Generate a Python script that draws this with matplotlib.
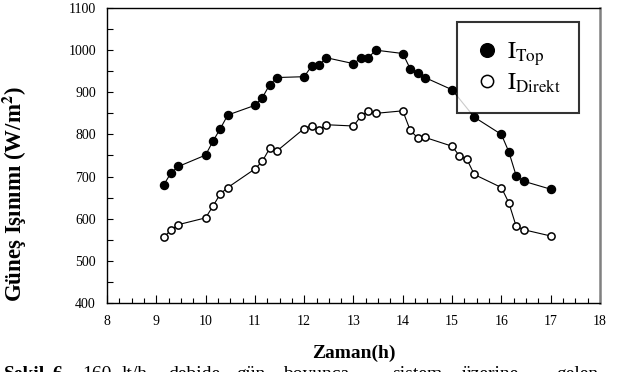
import matplotlib
matplotlib.use("Agg")
import matplotlib.pyplot as plt
from matplotlib.ticker import MultipleLocator

plt.rcParams["font.family"] = ["Liberation Serif", "DejaVu Serif"]
plt.rcParams["mathtext.fontset"] = "stix"

# clock times written as HH.MM decimals in the source chart
t_top = [9.15, 9.30, 9.45, 10.00, 10.15, 10.30, 10.45, 11.00, 11.15, 11.30, 11.45,
         12.00, 12.15, 12.30, 12.45, 13.00, 13.15, 13.30, 13.45, 14.00, 14.15, 14.30,
         14.45, 15.00, 15.45, 16.00, 16.15, 16.30, 16.45, 17.00]
i_top = [680, 709, 724, 751, 784, 814, 846, 869, 887, 918, 935,
         937, 962, 964, 982, 968, 981, 982, 1000, 992, 956, 946,
         935, 906, 841, 800, 759, 702, 689, 670]

t_dir = [9.15, 9.30, 9.45, 10.00, 10.15, 10.30, 10.45, 11.00, 11.15, 11.30, 11.45,
         12.00, 12.15, 12.30, 12.45, 13.00, 13.15, 13.30, 13.45, 14.00, 14.15, 14.30,
         14.45, 15.00, 15.15, 15.30, 15.45, 16.00, 16.15, 16.30, 16.45, 17.00]
i_dir = [556, 573, 586, 602, 630, 659, 674, 718, 736, 767, 761,
         814, 821, 810, 823, 820, 843, 855, 850, 856, 810, 792,
         793, 772, 749, 741, 705, 674, 638, 582, 574, 559]

caption_words = ["Şekil", "6.", "160", "lt/h", "debide", "gün", "boyunca",
                 "sistem", "üzerine", "gelen"]
caption_x = [4, 52, 82, 122, 168, 236, 283, 392, 462, 556]

fig = plt.figure(figsize=(6.22, 3.72), dpi=100)
ax = fig.add_axes([0.172, 0.1855, 0.7926, 0.793])

ax.plot(t_top, i_top, color="black", lw=0.8, marker="o", ms=5.8,
        mfc="black", mec="black", label=r"$\mathrm{I_{Top}}$")
ax.plot(t_dir, i_dir, color="black", lw=0.8, marker="o", ms=5.2,
        mfc="white", mec="black", mew=1.1, label=r"$\mathrm{I_{Direkt}}$")

ax.set_xlim(8, 18)
ax.set_ylim(400, 1100)
ax.xaxis.set_major_locator(MultipleLocator(1))
ax.xaxis.set_minor_locator(MultipleLocator(0.25))
ax.yaxis.set_major_locator(MultipleLocator(100))
ax.yaxis.set_minor_locator(MultipleLocator(50))
ax.tick_params(which="both", direction="in", labelsize=10, width=0.8)
ax.tick_params(axis="x", which="major", length=6, pad=9)
ax.tick_params(axis="x", which="minor", length=3.5)
ax.tick_params(axis="y", which="both", length=4.5, pad=8)

for s in ["left", "bottom", "top"]:
    ax.spines[s].set_linewidth(1.0)
ax.spines["right"].set_color("#808080")
ax.spines["right"].set_linewidth(1.8)

ax.set_xlabel("Zaman(h)", fontsize=14, fontweight="bold", labelpad=12)
ax.set_ylabel(r"Güneş Işınımı (W/m$^{\mathbf{2}}$)", fontsize=16.5,
              fontweight="bold")
ax.yaxis.set_label_coords(-0.158, 0.37)

leg = ax.legend(loc="upper left", bbox_to_anchor=(0.71, 0.952), fontsize=17.5,
                frameon=True, fancybox=False, edgecolor="black", markerscale=1.7,
                handlelength=1.0, handletextpad=0.3, borderpad=0.75,
                labelspacing=0.15, borderaxespad=0)
leg.get_frame().set_linewidth(1.5)
for line in leg.get_lines():
    line.set_linestyle("")

# caption, cut off at the bottom like the source
for i, (word, x) in enumerate(zip(caption_words, caption_x)):
    fig.text(x / 622, -0.03, word, fontsize=14, va="bottom",
             fontweight="bold" if i < 2 else "normal")

fig.savefig("out.png", dpi=100)
